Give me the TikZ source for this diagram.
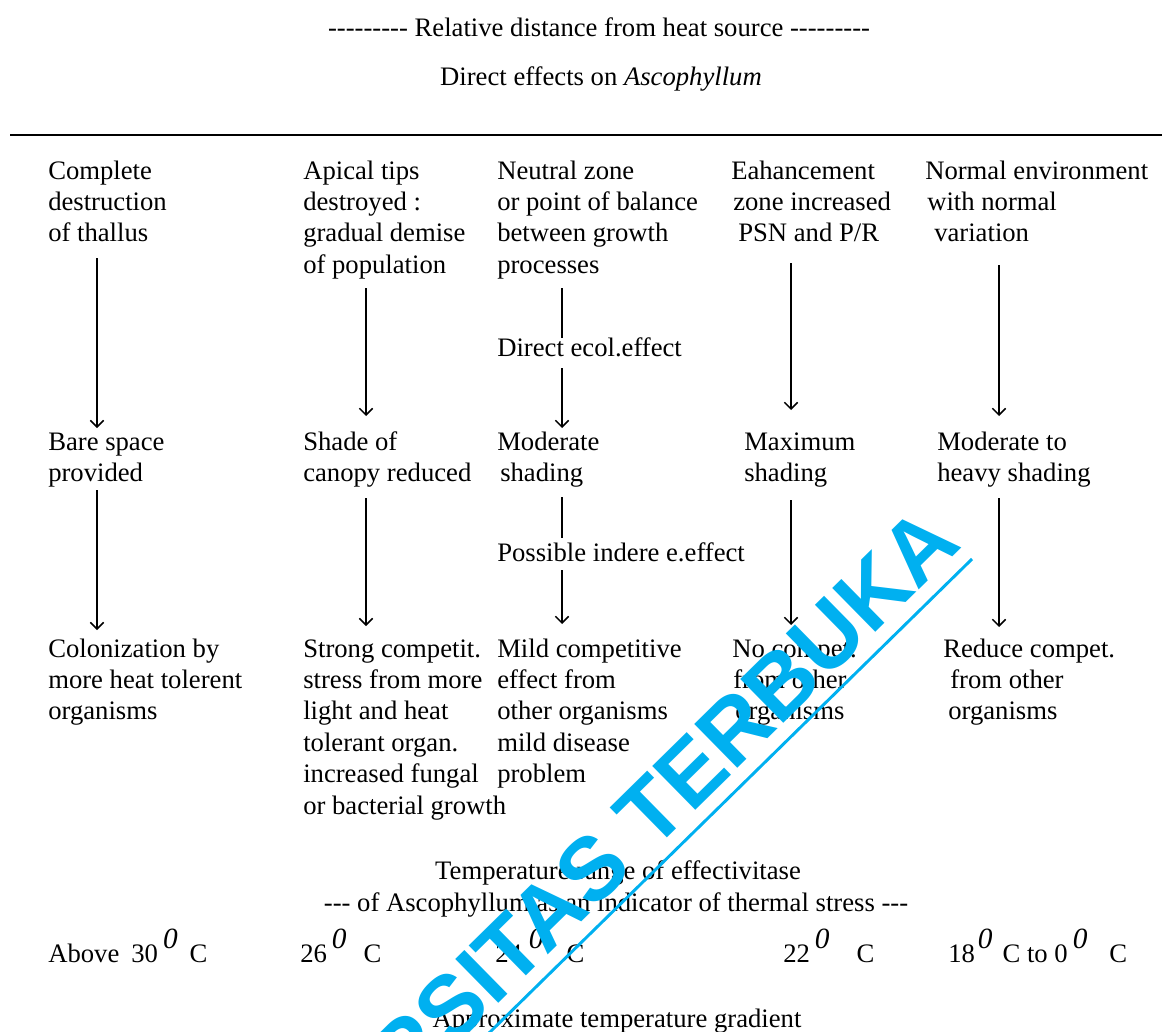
\documentclass[tikz,border=0pt]{standalone}
\usepackage{fontspec}
\setmainfont{Liberation Serif}
\newfontfamily\wmfont{Liberation Sans Bold}
\usetikzlibrary{arrows.meta}
\newdimen\pxu \pxu=0.75pt
\newcommand\hy{-\kern0pt\relax}
\newcommand\nhy{\hy\hy\hy\hy\hy\hy\hy\hy\hy}
\newcommand\gap[1]{\hspace*{#1\pxu}}
\newcommand\vt[1]{\vtop{\halign{##\hfil\cr #1\crcr}}}
\newcommand\tsup{\raisebox{0.5em}{\fontsize{22}{22}\selectfont\itshape 0}}
\definecolor{wm}{RGB}{0,176,240}
\begin{document}
\begin{tikzpicture}[x=0.75pt,y=-0.75pt,
  txt/.style={anchor=base west, inner sep=0pt, font=\fontsize{20}{23.6}\selectfont},
  ctr/.style={anchor=base, inner sep=0pt, font=\fontsize{20}{23.6}\selectfont},
  arr/.style={line width=1.1pt, -{Straight Barb[length=5pt,width=10pt]}},
  stem/.style={line width=1.1pt},
  wmtext/.style={rotate=44.5, anchor=base east, inner sep=0pt, text=wm, font=\wmfont\fontsize{67}{67}\selectfont}]
\useasboundingbox (0,0) rectangle (1162,1031);
\clip (0,0) rectangle (1162,1031);
% titles
\node[ctr] (t1) at (599,37) {\nhy{} Relative distance from heat source \nhy};
\node[ctr] (t2) at (601,85) {Direct effects on \textit{Ascophyllum}};
\coordinate (r1) at (10,135); \coordinate (r2) at (1162,135);
\draw[line width=1.1pt] (r1) -- (r2);
% row 1
\node[txt] (c1a) at (48,179) {\vt{Complete\cr destruction\cr of thallus}};
\node[txt] (c2a) at (303,179) {\vt{Apical tips\cr destroyed :\cr gradual demise\cr of population}};
\node[txt] (c3a) at (497,179) {\vt{Neutral zone\cr or point of balance\cr between growth\cr processes}};
\node[txt] (c4a) at (731,179) {\vt{Eahancement\cr \gap{2}zone increased\cr \gap{7}PSN and P/R}};
\node[txt] (c5a) at (925,179) {\vt{Normal environment\cr \gap{2}with normal\cr \gap{9}variation}};
% row 2
\node[txt] (c1b) at (48,450) {\vt{Bare space\cr provided}};
\node[txt] (c2b) at (303,450) {\vt{Shade of\cr canopy reduced}};
\node[txt] (c3b) at (497,450) {\vt{Moderate\cr \gap{3}shading}};
\node[txt] (c4b) at (744,450) {\vt{Maximum\cr shading}};
\node[txt] (c5b) at (937,450) {\vt{Moderate to\cr heavy shading}};
% row 3
\node[txt] (c1c) at (48,657) {\vt{Colonization by\cr more heat tolerent\cr organisms}};
\node[txt] (c2c) at (303,657) {\vt{Strong competit.\cr stress from more\cr light and heat\cr tolerant organ.\cr increased fungal\cr or bacterial growth}};
\node[txt] (c3c) at (497,657) {\vt{Mild competitive\cr effect from\cr other organisms\cr mild disease\cr problem}};
\node[txt] (c4c) at (732,657) {\vt{No compet.\cr \gap{1}from other\cr \gap{3}organisms}};
\node[txt] (c5c) at (943,657) {\vt{Reduce compet.\cr \gap{7}from other\cr \gap{5}organisms}};
% labels
\node[txt] (l1) at (497,356) {Direct ecol.effect};
\node[txt] (l2) at (497,561) {Possible indere e.effect};
% arrows row1 -> row2
\coordinate (a1s) at (97,258);  \coordinate (a1e) at (97,428);
\coordinate (a2s) at (366,288); \coordinate (a2e) at (366,416);
\coordinate (a3s) at (562,288); \coordinate (a3m) at (562,338);
\coordinate (a3n) at (562,368); \coordinate (a3e) at (562,428);
\coordinate (a4s) at (791,263); \coordinate (a4e) at (791,410);
\coordinate (a5s) at (999,265); \coordinate (a5e) at (999,416);
\draw[arr] (a1s) -- (a1e);
\draw[arr] (a2s) -- (a2e);
\draw[stem] (a3s) -- (a3m);
\draw[arr] (a3n) -- (a3e);
\draw[arr] (a4s) -- (a4e);
\draw[arr] (a5s) -- (a5e);
% arrows row2 -> row3
\coordinate (b1s) at (97,490);  \coordinate (b1e) at (97,630);
\coordinate (b2s) at (366,498); \coordinate (b2e) at (366,626);
\coordinate (b3s) at (562,497); \coordinate (b3m) at (562,538);
\coordinate (b3n) at (562,570); \coordinate (b3e) at (562,624);
\coordinate (b4s) at (791,500); \coordinate (b4e) at (791,625);
\coordinate (b5s) at (999,498); \coordinate (b5e) at (999,627);
\draw[arr] (b1s) -- (b1e);
\draw[arr] (b2s) -- (b2e);
\draw[stem] (b3s) -- (b3m);
\draw[arr] (b3n) -- (b3e);
\draw[arr] (b4s) -- (b4e);
\draw[arr] (b5s) -- (b5e);
% bottom
\node[ctr] (g1) at (618,879) {Temperature range of effectivitase};
\node[ctr] (g2) at (616,911) {\hy\hy\hy{} of Ascophyllum as an indicator of thermal stress \hy\hy\hy};
\node[txt] (tp1) at (48,962) {Above\gap{12}30\gap{5}\tsup\gap{12}C};
\node[txt] (tp2) at (300,962) {26\gap{5}\tsup\gap{17}C};
\node[txt] (tp3) at (495,962) {24\gap{7}\tsup\gap{23}C};
\node[txt] (tp4) at (783,962) {22\gap{5}\tsup\gap{27}C};
\node[txt] (tp5) at (948,962) {18\gap{3}\tsup\gap{10}C to 0\gap{5}\tsup\gap{22}C};
\node[ctr] (g3) at (617,1027) {Approximate temperature gradient};
% watermark
\node[wmtext] (wmk) at (964,546) {UNIVERSITAS TERBUKA};
\coordinate (w1) at (972,559); \coordinate (w2) at (380,1140);
\draw[wm, line width=2.2pt] (w1) -- (w2);
\end{tikzpicture}
\end{document}
